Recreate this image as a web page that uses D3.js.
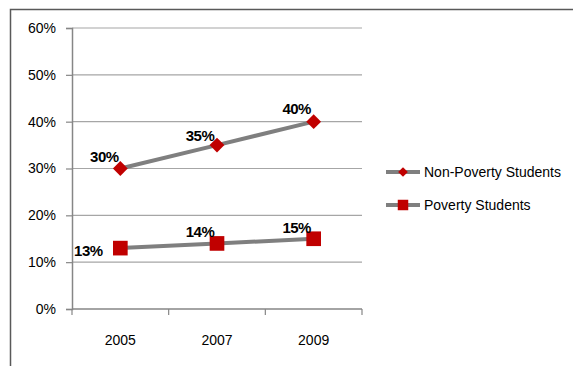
<!DOCTYPE html>
<html>
<head>
<meta charset="utf-8">
<script src="https://cdn.jsdelivr.net/npm/d3@7"></script>
<style>
  body { margin: 0; background: #fff; }
  svg { display: block; font-family: "Liberation Sans", Arial, sans-serif; }
</style>
</head>
<body>
<svg id="chart" width="573" height="366"></svg>
<script>
var years = ['2005', '2007', '2009'];
var nonPoverty = [30, 35, 40];
var poverty = [13, 14, 15];
var yTicks = [0, 10, 20, 30, 40, 50, 60];
var seriesNames = ['Non-Poverty Students', 'Poverty Students'];

var svg = d3.select('#chart');

// outer frame, runs off the right and bottom edges
svg.append('rect')
    .attr('x', 10.5).attr('y', 9.5)
    .attr('width', 600).attr('height', 400)
    .attr('fill', 'none')
    .attr('stroke', '#595959')
    .attr('stroke-width', 1.5);

var plotLeft = 72, plotRight = 362, plotTop = 28, plotBottom = 309;

var x = d3.scaleBand().domain(years).range([plotLeft, plotRight]);
var y = d3.scaleLinear().domain([0, 60]).range([plotBottom, plotTop]);

// gridlines
svg.append('g')
    .selectAll('line')
    .data(yTicks.slice(1))
    .join('line')
    .attr('x1', plotLeft).attr('x2', plotRight)
    .attr('y1', function(d) { return y(d); })
    .attr('y2', function(d) { return y(d); })
    .attr('stroke', '#a6a6a6')
    .attr('stroke-width', 1.2);

var yAxis = svg.append('g')
    .attr('transform', 'translate(' + plotLeft + ',0)')
    .call(d3.axisLeft(y).tickValues(yTicks).tickSize(6).tickPadding(10)
        .tickFormat(function(d) { return d + '%'; }));

var xAxis = svg.append('g')
    .attr('transform', 'translate(0,' + plotBottom + ')')
    .call(d3.axisBottom(x).tickSize(0).tickPadding(26));

[yAxis, xAxis].forEach(function(ax) {
    ax.select('.domain').attr('stroke', '#868686').attr('stroke-width', 1.5);
    ax.selectAll('.tick line').attr('stroke', '#868686').attr('stroke-width', 1.2);
    ax.selectAll('text')
        .attr('fill', '#000')
        .style('font-size', '14px')
        .style('font-family', '"Liberation Sans", Arial, sans-serif');
});
xAxis.select('.domain').attr('d', 'M' + plotLeft + ',0H' + plotRight);

// category boundary ticks under the x axis
svg.append('g')
    .selectAll('line')
    .data(years.concat(['end']))
    .join('line')
    .attr('x1', function(d, i) { return plotLeft + i * x.step(); })
    .attr('x2', function(d, i) { return plotLeft + i * x.step(); })
    .attr('y1', plotBottom).attr('y2', plotBottom + 6)
    .attr('stroke', '#868686')
    .attr('stroke-width', 1.2);

var cx = function(d, i) { return x(years[i]) + x.bandwidth() / 2; };
var line = d3.line()
    .x(function(d, i) { return cx(d, i); })
    .y(function(d) { return y(d); });

var red = '#c00000';
var diamond = d3.symbol().type(d3.symbolDiamond2).size(140);
var square = d3.symbol().type(d3.symbolSquare).size(215);

function drawSeries(values, sym, offsets) {
    svg.append('path')
        .datum(values)
        .attr('d', line)
        .attr('fill', 'none')
        .attr('stroke', '#7f7f7f')
        .attr('stroke-width', 4);

    svg.append('g')
        .selectAll('path')
        .data(values)
        .join('path')
        .attr('transform', function(d, i) { return 'translate(' + cx(d, i) + ',' + y(d) + ')'; })
        .attr('d', sym)
        .attr('fill', red);

    svg.append('g')
        .selectAll('text')
        .data(values)
        .join('text')
        .attr('x', function(d, i) { return cx(d, i) + offsets[i][0]; })
        .attr('y', function(d, i) { return y(d) + offsets[i][1]; })
        .attr('text-anchor', 'middle')
        .attr('dominant-baseline', 'central')
        .attr('font-weight', 'bold')
        .attr('font-size', '15px')
        .attr('letter-spacing', '-0.5')
        .text(function(d) { return d + '%'; });
}

drawSeries(nonPoverty, diamond, [[-16, -12], [-17, -10], [-17, -13]]);
drawSeries(poverty, square, [[-32, 2], [-17, -12], [-17, -11]]);

// legend
var legend = svg.append('g');
var legendRows = [
    { name: seriesNames[0], sym: d3.symbol().type(d3.symbolDiamond2).size(60), y: 172 },
    { name: seriesNames[1], sym: d3.symbol().type(d3.symbolSquare).size(110), y: 205 }
];
legendRows.forEach(function(r) {
    legend.append('line')
        .attr('x1', 386).attr('x2', 420)
        .attr('y1', r.y).attr('y2', r.y)
        .attr('stroke', '#7f7f7f')
        .attr('stroke-width', 4);
    legend.append('path')
        .attr('transform', 'translate(403,' + r.y + ')')
        .attr('d', r.sym)
        .attr('fill', red);
    legend.append('text')
        .attr('x', 424).attr('y', r.y)
        .attr('dominant-baseline', 'central')
        .attr('font-size', '14px')
        .text(r.name);
});
</script>
</body>
</html>
